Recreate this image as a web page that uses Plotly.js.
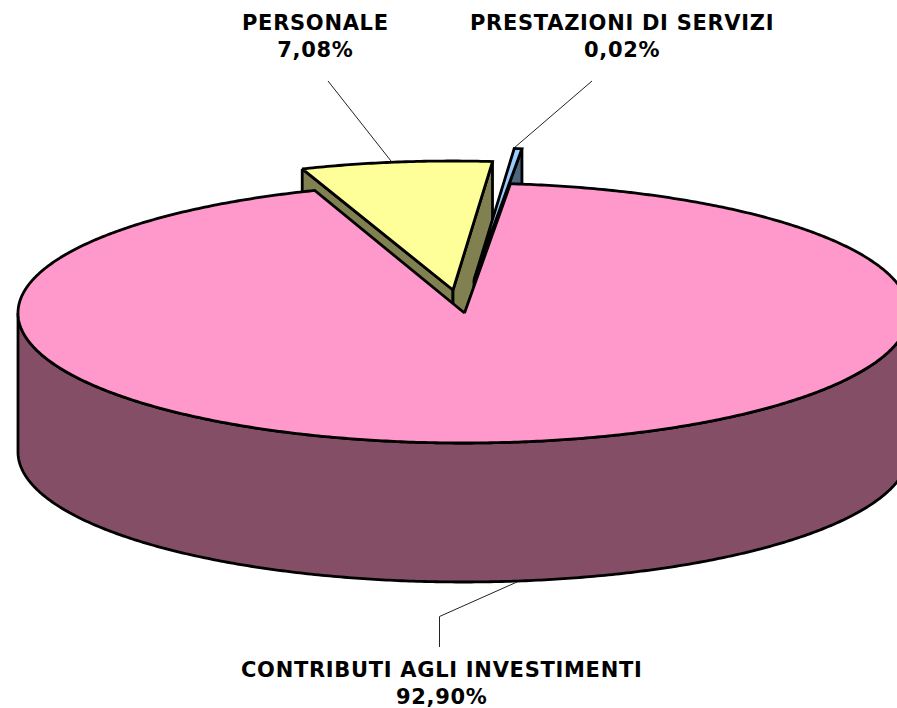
<!DOCTYPE html>
<html>
<head>
<meta charset="utf-8">
<script src="https://cdn.plot.ly/plotly-3.0.1.min.js"></script>
<style>html,body{margin:0;padding:0;background:#fff;overflow:hidden}#chart{width:897px;height:708px}
.annotation-text{letter-spacing:0.7px}</style>
</head>
<body>
<div id="chart"></div>
<script>
// Data
var categories = ["CONTRIBUTI AGLI INVESTIMENTI", "PERSONALE", "PRESTAZIONI DI SERVIZI"];
var percents = [92.90, 7.08, 0.02];

// Styles
var topColors = ["#ff99cc", "#ffff99", "#99ccff"];
var sideColors = ["#844f66", "#808050", "#4d6680"];
var edge = "#000000", edgeWidth = 2.8;
var labelFont = {family: "DejaVu Sans", size: 21, color: "#000000"};

// Projection of the tilted pie onto the page
var pie = {cx: 463.5, cy: 313, rx: 445.5, ry: 130, depth: 139, startDeg: 6.05};
var yellowPie = {cx: 452.5, cy: 290, rx: 435, ry: 129, apexX: 453, apexY: 290};
var bluePie = {cx: 474, cy: 280, rx: 445.5, ry: 132, apexX: 474, apexY: 280};
var minBlueSweep = 1;

var sweeps = percents.map(function (p) { return p * 3.6; });

function pt(p, deg, dy) {
  var r = deg * Math.PI / 180;
  return [p.cx + p.rx * Math.sin(r), p.cy - p.ry * Math.cos(r) + (dy || 0)];
}
function arc(p, a, b, dy) {
  var n = Math.max(2, Math.ceil(Math.abs(b - a) * 2)), out = [];
  for (var i = 0; i <= n; i++) out.push(pt(p, a + (b - a) * i / n, dy));
  return out;
}
function poly(points, fill) {
  var xs = points.map(function (q) { return q[0]; });
  var ys = points.map(function (q) { return q[1]; });
  xs.push(xs[0]); ys.push(ys[0]);
  return {x: xs, y: ys, type: "scatter", mode: "lines", fill: "toself", fillcolor: fill,
          line: {color: edge, width: edgeWidth, simplify: false, shape: "linear"},
          hoverinfo: "skip", showlegend: false};
}
function wall(a, b, d, color) {
  return poly([a, b, [b[0], b[1] + d], [a[0], a[1] + d]], color);
}

var pinkStart = pie.startDeg, pinkEnd = pinkStart + sweeps[0];
var yellowStart = pinkEnd - 0.7, yellowEnd = yellowStart + sweeps[1];
var blueStart = yellowEnd - 0.1, blueEnd = blueStart + Math.max(minBlueSweep, sweeps[2]);

var traces = [];

// PERSONALE: exploded slice, behind the main slice
var yApex = [yellowPie.apexX, yellowPie.apexY];
var yA = pt(yellowPie, yellowStart), yB = pt(yellowPie, yellowEnd);
traces.push(wall(yA, yApex, pie.depth, sideColors[1]));
traces.push(wall(yApex, yB, pie.depth, sideColors[1]));
traces.push(poly([yApex].concat(arc(yellowPie, yellowStart, yellowEnd)), topColors[1]));

// PRESTAZIONI DI SERVIZI: thin exploded sliver
var bApex = [bluePie.apexX, bluePie.apexY];
var bB = pt(bluePie, blueEnd);
traces.push(wall(bApex, bB, pie.depth, sideColors[2]));
traces.push(poly([bApex].concat(arc(bluePie, blueStart, blueEnd)), topColors[2]));

// CONTRIBUTI AGLI INVESTIMENTI: outer wall, then top face
var front = arc(pie, 90, 270);
var frontBottom = arc(pie, 270, 90, pie.depth);
traces.push(poly(front.concat(frontBottom), sideColors[0]));
traces.push(poly([[pie.cx + 1, pie.cy]].concat(arc(pie, pinkStart, pinkEnd)), topColors[0]));

// Leader lines
var leaders = [
  {x: [517, 439.5, 439.5], y: [582, 616.5, 647]},
  {x: [328, 391], y: [81, 161]},
  {x: [592, 514], y: [81, 148]}
];
leaders.forEach(function (l) {
  traces.push({x: l.x, y: l.y, type: "scatter", mode: "lines",
               line: {color: "#222222", width: 1}, hoverinfo: "skip", showlegend: false});
});

// Labels
var labelPos = [{x: 441, y: 683}, {x: 315, y: 36}, {x: 622, y: 36}];
var annotations = categories.map(function (c, i) {
  return {
    text: "<b>" + c + "<br>" + percents[i].toFixed(2).replace(".", ",") + "%</b>",
    x: labelPos[i].x, y: labelPos[i].y, xref: "x", yref: "y",
    xanchor: "center", yanchor: "middle", align: "center",
    showarrow: false, font: labelFont
  };
});

var hidden = {visible: false, fixedrange: true};
var layout = {
  width: 897, height: 708,
  margin: {l: 0, r: 0, t: 0, b: 0, pad: 0},
  paper_bgcolor: "#ffffff", plot_bgcolor: "#ffffff",
  showlegend: false,
  xaxis: Object.assign({range: [0, 897]}, hidden),
  yaxis: Object.assign({range: [708, 0]}, hidden),
  annotations: annotations
};
Plotly.newPlot("chart", traces, layout, {displayModeBar: false, staticPlot: true});
</script>
</body>
</html>
